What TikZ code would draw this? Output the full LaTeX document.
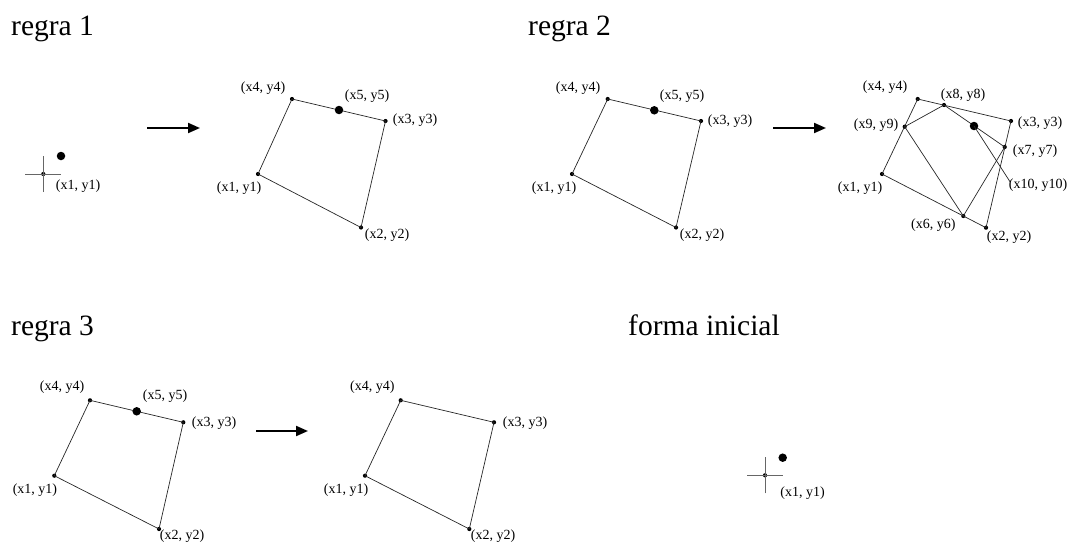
\documentclass[tikz,border=0pt]{standalone}
\usepackage{fontspec}
\setmainfont{Liberation Serif}
\usetikzlibrary{arrows.meta}

\begin{document}
\begin{tikzpicture}[x=1pt, y=-1pt,
    vtx/.style={circle, fill, inner sep=0pt, minimum size=4.2pt},
    mark5/.style={circle, fill, inner sep=0pt, minimum size=8.5pt},
    lab/.style={font=\fontsize{14}{16}\selectfont, inner sep=0pt},
    ttl/.style={font=\fontsize{29.5}{32}\selectfont, anchor=base west, inner sep=0pt},
    side/.style={line width=0.7pt, black!85},
    crossline/.style={line width=0.7pt, black!60},
    rulearrow/.style={line width=2pt, -{Triangle[length=12pt, width=10pt]}}
]
    \useasboundingbox (0,0) rectangle (1068,546);

    % regra 1
    \node[ttl] (t1) at (11,35) {regra 1};
    \node[vtx] (r1o) at (43.3,174) {};
    \draw[crossline] ([xshift=-18pt]r1o.center) -- ([xshift=18pt]r1o.center);
    \draw[crossline] ([yshift=-18pt]r1o.center) -- ([yshift=18pt]r1o.center);
    \node[mark5] (r1m) at (61,156) {};
    \node[lab] (r1ol) at (78,186.5) {(x1, y1)};
    \coordinate (a1s) at (147,128);
    \coordinate (a1e) at (200,128);
    \draw[rulearrow] (a1s) -- (a1e);

    \node[vtx] (r1x1) at (258,174) {};
    \node[vtx] (r1x2) at (361,227.5) {};
    \node[vtx] (r1x3) at (385.5,121) {};
    \node[vtx] (r1x4) at (292,99) {};
    \draw[side] (r1x1.center) -- (r1x2.center) -- (r1x3.center) -- (r1x4.center) -- cycle;
    \node[mark5] (r1x5) at (339,110) {};
    \node[lab] (r1l1) at (239,188) {(x1, y1)};
    \node[lab] (r1l2) at (387,235) {(x2, y2)};
    \node[lab] (r1l3) at (415,120) {(x3, y3)};
    \node[lab] (r1l4) at (263,88) {(x4, y4)};
    \node[lab] (r1l5) at (367,96) {(x5, y5)};

    % regra 2
    \node[ttl] (t2) at (528,35) {regra 2};
    \node[vtx] (r2x1) at (572,174) {};
    \node[vtx] (r2x2) at (676,227.5) {};
    \node[vtx] (r2x3) at (701,121) {};
    \node[vtx] (r2x4) at (607.7,99) {};
    \draw[side] (r2x1.center) -- (r2x2.center) -- (r2x3.center) -- (r2x4.center) -- cycle;
    \node[mark5] (r2x5) at (654.3,110.3) {};
    \node[lab] (r2l1) at (554,188) {(x1, y1)};
    \node[lab] (r2l2) at (702,235) {(x2, y2)};
    \node[lab] (r2l3) at (730,121) {(x3, y3)};
    \node[lab] (r2l4) at (578,88) {(x4, y4)};
    \node[lab] (r2l5) at (682,96) {(x5, y5)};
    \coordinate (a2s) at (773,128);
    \coordinate (a2e) at (826,128);
    \draw[rulearrow] (a2s) -- (a2e);

    \node[vtx] (s2x1) at (882,174) {};
    \node[vtx] (s2x2) at (986,227.7) {};
    \node[vtx] (s2x3) at (1011,121) {};
    \node[vtx] (s2x4) at (917.7,99) {};
    \node[vtx] (s2x6) at (963.3,216) {};
    \node[vtx] (s2x7) at (1004.7,147) {};
    \node[vtx] (s2x8) at (944,105) {};
    \node[vtx] (s2x9) at (904.7,126.7) {};
    \draw[side] (s2x1.center) -- (s2x2.center) -- (s2x3.center) -- (s2x4.center) -- cycle;
    \draw[side] (s2x9.center) -- (s2x8.center) -- (s2x7.center) -- (s2x6.center) -- cycle;
    \node[mark5] (s2x10) at (974,126) {};
    \coordinate (s2lead) at (1010,181.7);
    \draw[side] (s2x10.center) -- (s2lead);
    \node[lab] (s2l1) at (860,188.3) {(x1, y1)};
    \node[lab] (s2l2) at (1009,236.7) {(x2, y2)};
    \node[lab] (s2l3) at (1040,122.7) {(x3, y3)};
    \node[lab] (s2l4) at (885,87) {(x4, y4)};
    \node[lab] (s2l6) at (933.3,225) {(x6, y6)};
    \node[lab] (s2l7) at (1035,151) {(x7, y7)};
    \node[lab] (s2l8) at (963,95) {(x8, y8)};
    \node[lab] (s2l9) at (876,125) {(x9, y9)};
    \node[lab] (s2l10) at (1038,185) {(x10, y10)};

    % regra 3
    \node[ttl] (t3) at (11,335) {regra 3};
    \node[vtx] (r3x1) at (54.3,475.7) {};
    \node[vtx] (r3x2) at (159,529) {};
    \node[vtx] (r3x3) at (183.3,422.3) {};
    \node[vtx] (r3x4) at (90,400.3) {};
    \draw[side] (r3x1.center) -- (r3x2.center) -- (r3x3.center) -- (r3x4.center) -- cycle;
    \node[mark5] (r3x5) at (136.7,411.3) {};
    \node[lab] (r3l1) at (35,490) {(x1, y1)};
    \node[lab] (r3l2) at (182,536.5) {(x2, y2)};
    \node[lab] (r3l3) at (214,423.3) {(x3, y3)};
    \node[lab] (r3l4) at (62,387) {(x4, y4)};
    \node[lab] (r3l5) at (165,396) {(x5, y5)};
    \coordinate (a3s) at (256,431);
    \coordinate (a3e) at (308,431);
    \draw[rulearrow] (a3s) -- (a3e);

    \node[vtx] (s3x1) at (365,475.7) {};
    \node[vtx] (s3x2) at (469.3,529) {};
    \node[vtx] (s3x3) at (494,422.3) {};
    \node[vtx] (s3x4) at (400.7,400.3) {};
    \draw[side] (s3x1.center) -- (s3x2.center) -- (s3x3.center) -- (s3x4.center) -- cycle;
    \node[lab] (s3l1) at (346,490) {(x1, y1)};
    \node[lab] (s3l2) at (493,536.5) {(x2, y2)};
    \node[lab] (s3l3) at (525,423.3) {(x3, y3)};
    \node[lab] (s3l4) at (372.4,387) {(x4, y4)};

    % forma inicial
    \node[ttl] (t4) at (628,335) {forma inicial};
    \node[vtx] (f0) at (765,475.3) {};
    \draw[crossline] ([xshift=-18pt]f0.center) -- ([xshift=18pt]f0.center);
    \draw[crossline] ([yshift=-18pt]f0.center) -- ([yshift=18pt]f0.center);
    \node[mark5] (f0m) at (782.7,457.7) {};
    \node[lab] (f0l) at (802.5,493) {(x1, y1)};
\end{tikzpicture}
\end{document}
